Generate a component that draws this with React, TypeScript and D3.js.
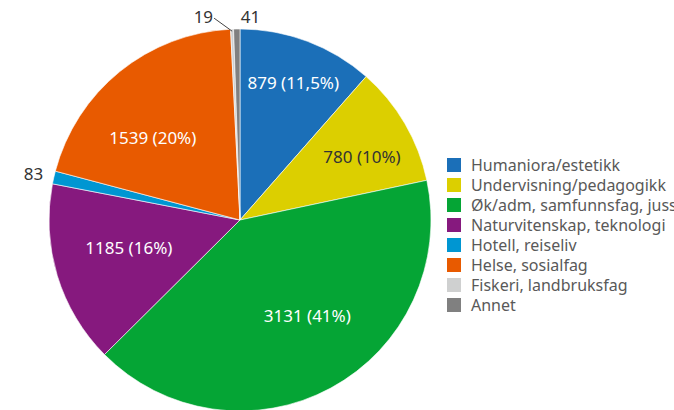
import React from "react";
import * as d3 from "d3";

const categories = [
  "Humaniora/estetikk",
  "Undervisning/pedagogikk",
  "Øk/adm, samfunnsfag, juss",
  "Naturvitenskap, teknologi",
  "Hotell, reiseliv",
  "Helse, sosialfag",
  "Fiskeri, landbruksfag",
  "Annet",
];
const values = [879, 780, 3131, 1185, 83, 1539, 19, 41];
const percentLabels = ["11,5%", "10%", "41%", "16%", "", "20%", "", ""];
const colors = ["#1b6fb8", "#dccf00", "#05a535", "#86197e", "#0096d2", "#e85a00", "#cfd0d0", "#808080"];
const labelColors = ["#fff", "#333", "#fff", "#fff", "#333", "#fff", "#333", "#333"];
// layout: label radius factors and angle shifts per slice (styling)
const labelRadius = [0.77, 0.72, 0.61, 0.6, 1.1, 0.63, 1.0, 1.0];
const labelAngleShift = [0.01, 0.05, -0.12, 0.05, 0, -0.13, 0, 0];

const W = 674;
const H = 410;
const cx = 240;
const cy = 220;
const R = 191;
const FONT = "'Noto Sans', 'Open Sans', sans-serif";

export default function App() {
  const pie = d3.pie<number>().sort(null).value((d) => d)(values);
  const arc = d3.arc<d3.PieArcDatum<number>>().innerRadius(0).outerRadius(R);

  const labels = pie.map((p, i) => {
    const mid = (p.startAngle + p.endAngle) / 2 + labelAngleShift[i];
    const lr = R * labelRadius[i];
    const x = Math.sin(mid) * lr;
    const y = -Math.cos(mid) * lr;
    if (percentLabels[i]) {
      return (
        <text key={i} x={x} y={y} textAnchor="middle" dominantBaseline="central"
          fill={labelColors[i]} fontSize={17} fontFamily={FONT}>
          {`${values[i]} (${percentLabels[i]})`}
        </text>
      );
    }
    if (i === 4) {
      return (
        <text key={i} x={x + 8} y={y} textAnchor="end" dominantBaseline="central"
          fill="#333" fontSize={17} fontFamily={FONT}>{values[i]}</text>
      );
    }
    // small top slices
    const ox = Math.sin(mid) * R;
    const oy = -Math.cos(mid) * R;
    if (i === 6) {
      return (
        <g key={i}>
          <line x1={ox} y1={oy + 2} x2={ox - 18} y2={oy - 11} stroke="#444" strokeWidth={1} />
          <text x={ox - 19} y={oy - 13} textAnchor="end" dominantBaseline="central"
            fill="#333" fontSize={17} fontFamily={FONT}>{values[i]}</text>
        </g>
      );
    }
    return (
      <text key={i} x={ox + 4} y={oy - 13} textAnchor="start" dominantBaseline="central"
        fill="#333" fontSize={17} fontFamily={FONT}>{values[i]}</text>
    );
  });

  return (
    <svg width={W} height={H} style={{ position: "absolute", left: 0, top: 0, background: "#fff" }}>
      <g transform={`translate(${cx},${cy})`}>
        {pie.map((p, i) => (
          <path key={i} d={arc(p) || ""} fill={colors[i]} stroke="#fff" strokeWidth={0.6} />
        ))}
        {labels}
      </g>
      <g transform="translate(447,158)">
        {categories.map((c, i) => (
          <g key={c} transform={`translate(0,${i * 20})`}>
            <rect x={0} y={0} width={14} height={14} fill={colors[i]} />
            <text x={24} y={7} dominantBaseline="central" fill="#595959" fontSize={16} fontFamily={FONT}>
              {c}
            </text>
          </g>
        ))}
      </g>
    </svg>
  );
}
